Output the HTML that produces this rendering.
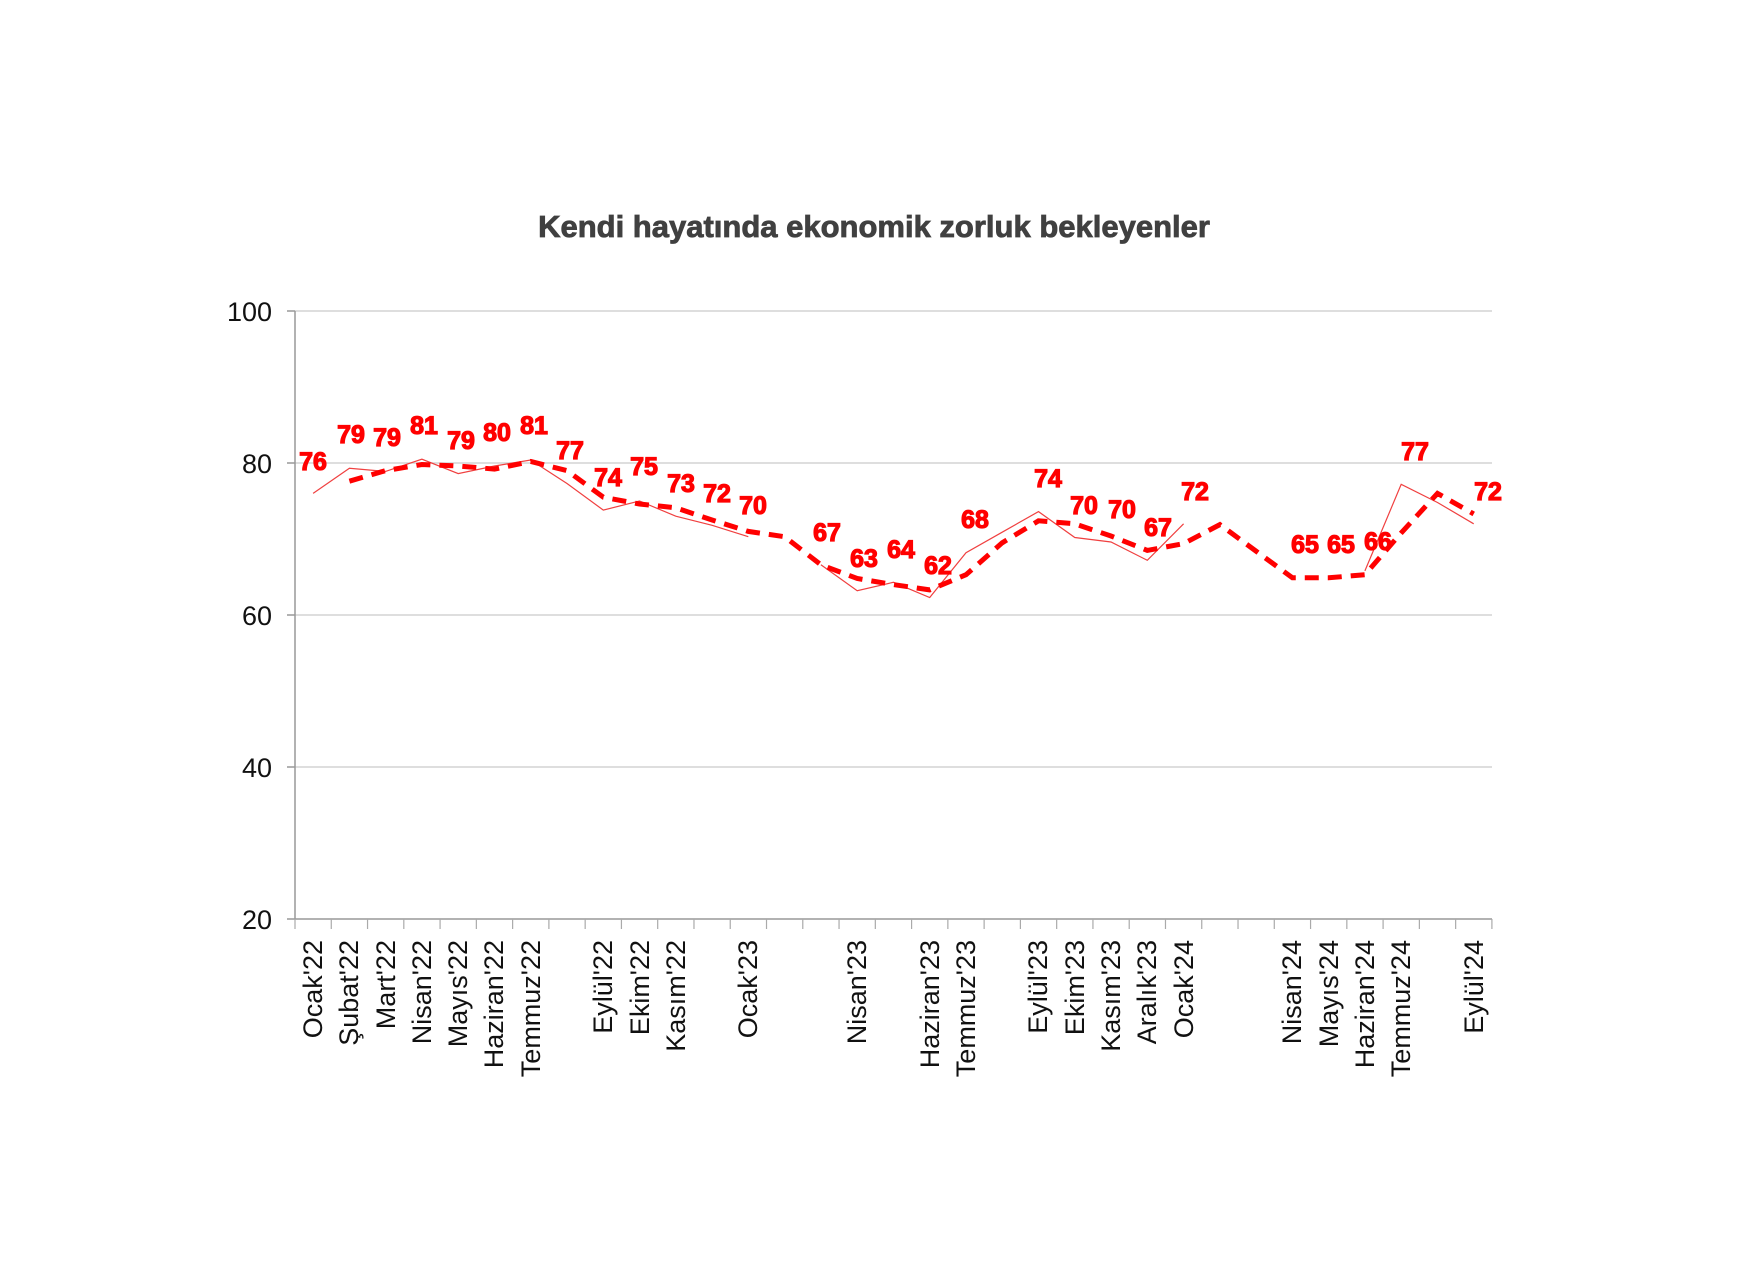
<!DOCTYPE html>
<html><head><meta charset="utf-8"><style>html,body{margin:0;padding:0;background:#fff}svg{display:block}</style></head>
<body>
<svg id="c" width="1763" height="1280" xmlns="http://www.w3.org/2000/svg" font-family="Liberation Sans, sans-serif">
<rect width="1763" height="1280" fill="#fff"/>
<text x="874" y="237" text-anchor="middle" font-size="31" font-weight="bold" fill="#404040" stroke="#404040" stroke-width="0.8">Kendi hayatında ekonomik zorluk bekleyenler</text>
<g stroke="#d4d4d4" stroke-width="1.5">
<line x1="295" y1="311" x2="1492" y2="311"/><line x1="295" y1="463" x2="1492" y2="463"/>
<line x1="295" y1="615" x2="1492" y2="615"/><line x1="295" y1="767" x2="1492" y2="767"/>
</g>
<g stroke="#999" stroke-width="1.5">
<line x1="295" y1="311" x2="295" y2="919"/><line x1="287" y1="311" x2="295" y2="311"/><line x1="287" y1="463" x2="295" y2="463"/><line x1="287" y1="615" x2="295" y2="615"/><line x1="287" y1="767" x2="295" y2="767"/>
<line x1="287" y1="919" x2="1492" y2="919"/>
</g>
<g id="ticks" stroke="#aaa" stroke-width="1.2"></g>
<g font-size="27" fill="#111" text-anchor="end">
<text x="272" y="321">100</text><text x="272" y="473">80</text><text x="272" y="625">60</text><text x="272" y="777">40</text><text x="272" y="929">20</text>
</g>
<path id="thin1" fill="none" stroke="#f04040" stroke-width="1.2"/>
<path id="thin2" fill="none" stroke="#f04040" stroke-width="1.2"/>
<path id="thin3" fill="none" stroke="#f04040" stroke-width="1.2"/>
<path id="dash" fill="none" stroke="#ff0000" stroke-width="5" stroke-dasharray="14 9"/>
<g font-size="25" font-weight="bold" fill="#ff0000" stroke="#ff0000" stroke-width="1.2" text-anchor="middle" dominant-baseline="central">
<text x="313" y="462">76</text><text x="351" y="435">79</text><text x="387" y="438">79</text><text x="424" y="426">81</text><text x="461" y="441">79</text><text x="497" y="433">80</text><text x="534" y="426">81</text><text x="570" y="451">77</text><text x="608" y="478">74</text><text x="644" y="467">75</text><text x="681" y="484">73</text><text x="717" y="494">72</text><text x="753" y="506">70</text><text x="827" y="533">67</text><text x="864" y="559">63</text><text x="901" y="550">64</text><text x="938" y="566">62</text><text x="975" y="520">68</text><text x="1048" y="479">74</text><text x="1084" y="506">70</text><text x="1122" y="510">70</text><text x="1158" y="528">67</text><text x="1195" y="492">72</text><text x="1305" y="545">65</text><text x="1341" y="545">65</text><text x="1378" y="542">66</text><text x="1415" y="452">77</text><text x="1488" y="492">72</text>
</g>
<g font-size="27" fill="#111" text-anchor="end">
<text transform="translate(322,940) rotate(-90)">Ocak'22</text>
<text transform="translate(358,940) rotate(-90)">Şubat'22</text>
<text transform="translate(395,940) rotate(-90)">Mart'22</text>
<text transform="translate(431,940) rotate(-90)">Nisan'22</text>
<text transform="translate(467,940) rotate(-90)">Mayıs'22</text>
<text transform="translate(503,940) rotate(-90)">Haziran'22</text>
<text transform="translate(540,940) rotate(-90)">Temmuz'22</text>
<text transform="translate(612,940) rotate(-90)">Eylül'22</text>
<text transform="translate(649,940) rotate(-90)">Ekim'22</text>
<text transform="translate(685,940) rotate(-90)">Kasım'22</text>
<text transform="translate(757,940) rotate(-90)">Ocak'23</text>
<text transform="translate(866,940) rotate(-90)">Nisan'23</text>
<text transform="translate(939,940) rotate(-90)">Haziran'23</text>
<text transform="translate(975,940) rotate(-90)">Temmuz'23</text>
<text transform="translate(1047,940) rotate(-90)">Eylül'23</text>
<text transform="translate(1084,940) rotate(-90)">Ekim'23</text>
<text transform="translate(1120,940) rotate(-90)">Kasım'23</text>
<text transform="translate(1156,940) rotate(-90)">Aralık'23</text>
<text transform="translate(1193,940) rotate(-90)">Ocak'24</text>
<text transform="translate(1301,940) rotate(-90)">Nisan'24</text>
<text transform="translate(1338,940) rotate(-90)">Mayıs'24</text>
<text transform="translate(1374,940) rotate(-90)">Haziran'24</text>
<text transform="translate(1410,940) rotate(-90)">Temmuz'24</text>
<text transform="translate(1483,940) rotate(-90)">Eylül'24</text>
</g>
</svg>
<script>
(function(){
var X=function(i){return 313.1+36.27*i},Y=function(v){return 919-(v-20)*7.6};
var t='';for(var i=0;i<=33;i++){var x=295+36.27*i;t+='<line x1="'+x+'" y1="919" x2="'+x+'" y2="929"/>';}
document.getElementById('ticks').innerHTML=t;
function p(pts){return pts.map(function(q,k){return (k?'L':'M')+X(q[0]).toFixed(1)+' '+Y(q[1]).toFixed(1)}).join(' ')}
document.getElementById('thin1').setAttribute('d',p([[0,76],[1,79.3],[2,78.9],[3,80.5],[4,78.6],[5,79.6],[6,80.4],[7,77.3],[8,73.8],[9,75],[10,73],[11,71.8],[12,70.3]]));
document.getElementById('thin2').setAttribute('d',p([[14,66.6],[15,63.2],[16,64.3],[17,62.3],[18,68.2],[19,70.9],[20,73.6],[21,70.2],[22,69.6],[23,67.2],[24,72]]));
document.getElementById('thin3').setAttribute('d',p([[29,65.8],[30,77.2],[31,74.8],[32,72]]));
document.getElementById('dash').setAttribute('d',p([[1,77.6],[2,79],[3,79.8],[4,79.6],[5,79.2],[6,80.2],[7,79],[8,75.5],[9,74.6],[10,74.1],[11,72.5],[12,71],[13,70.3],[14,66.6],[15,64.8],[16,64],[17,63.3],[18,65.3],[19,69.5],[20,72.4],[21,72],[22,70.4],[23,68.5],[24,69.4],[25,71.9],[26,68.4],[27,64.9],[28,64.9],[29,65.3],[30,70.8],[31,76],[32,73.3]]));
})();
</script>
</body></html>
